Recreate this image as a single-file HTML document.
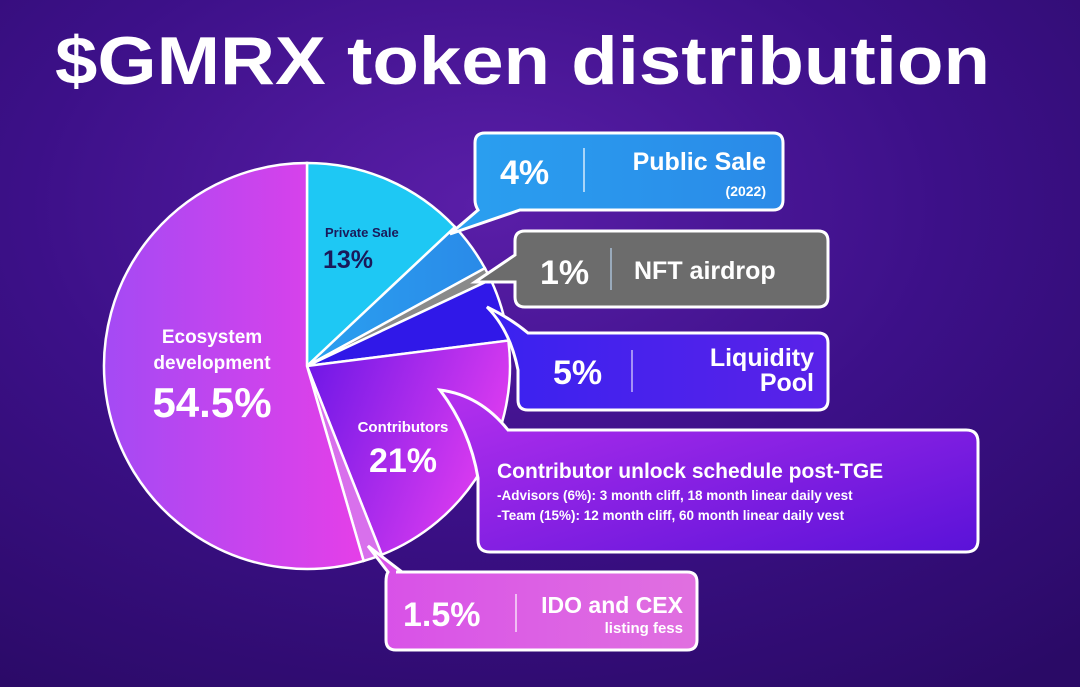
<!DOCTYPE html>
<html><head><meta charset="utf-8"><style>
html,body{margin:0;padding:0;width:1080px;height:687px;overflow:hidden;background:#2a0b68}
svg{display:block}
text{font-family:"Liberation Sans",sans-serif;font-weight:bold}
</style></head><body>
<svg width="1080" height="687" viewBox="0 0 1080 687">
<defs>
<radialGradient id="bg" cx="0.45" cy="0.3" r="0.85">
<stop offset="0" stop-color="#5a1ea8"/><stop offset="0.5" stop-color="#3c1088"/><stop offset="1" stop-color="#2a0a66"/>
</radialGradient>
<linearGradient id="eco" x1="0" x2="1" y1="0" y2="0"><stop offset="0" stop-color="#a44af4"/><stop offset="1" stop-color="#e53fe8"/></linearGradient>
<linearGradient id="con" x1="0" x2="1" y1="0" y2="0.4"><stop offset="0" stop-color="#6a16e6"/><stop offset="1" stop-color="#de3cf0"/></linearGradient>
<linearGradient id="pub" x1="0" x2="1"><stop offset="0" stop-color="#2aa0f0"/><stop offset="1" stop-color="#2a8ae8"/></linearGradient>
<linearGradient id="liq" x1="0" x2="1"><stop offset="0" stop-color="#3a22f0"/><stop offset="1" stop-color="#5a22e8"/></linearGradient>
<linearGradient id="cbox" x1="0" x2="1" y1="0" y2="1"><stop offset="0" stop-color="#b530ee"/><stop offset="1" stop-color="#5a12d8"/></linearGradient>
<linearGradient id="ido" x1="0" x2="1"><stop offset="0" stop-color="#d850e8"/><stop offset="1" stop-color="#e070e0"/></linearGradient>
</defs>
<rect width="1080" height="687" fill="url(#bg)"/>
<text x="55" y="84" font-size="68" fill="#fff" textLength="935" lengthAdjust="spacingAndGlyphs">$GMRX token distribution</text>
<g id="pie"></g>

<g>
<path d="M485,133 H773 Q783,133 783,143 V200 Q783,210 773,210 H520 L450,234 L478,210 Q475,205 475,200 V143 Q475,133 485,133Z" fill="url(#pub)" stroke="#fff" stroke-width="3"/>
<text x="500" y="184" font-size="34" fill="#fff">4%</text>
<line x1="584" y1="148" x2="584" y2="192" stroke="#fff" stroke-opacity="0.6" stroke-width="2"/>
<text x="766" y="170" font-size="25" fill="#fff" text-anchor="end">Public Sale</text>
<text x="766" y="196" font-size="14" fill="#fff" text-anchor="end">(2022)</text>
</g>
<g>
<path d="M525,231 H818 Q828,231 828,241 V297 Q828,307 818,307 H525 Q515,307 515,297 V282 L475,282 L515,255 V241 Q515,231 525,231Z" fill="#6c6c6c" stroke="#fff" stroke-width="3"/>
<text x="540" y="284" font-size="34" fill="#fff">1%</text>
<line x1="611" y1="248" x2="611" y2="290" stroke="#9ab" stroke-width="2"/>
<text x="634" y="279" font-size="25" fill="#fff">NFT airdrop</text>
</g>
<g>
<path d="M528,333 H818 Q828,333 828,343 V400 Q828,410 818,410 H528 Q518,410 518,400 V370 Q510,330 487,307 Q510,318 528,333Z" fill="url(#liq)" stroke="#fff" stroke-width="3"/>
<text x="553" y="384" font-size="34" fill="#fff">5%</text>
<line x1="632" y1="350" x2="632" y2="392" stroke="#fff" stroke-opacity="0.5" stroke-width="2"/>
<text x="814" y="366" font-size="25" fill="#fff" text-anchor="end">Liquidity</text>
<text x="814" y="391" font-size="25" fill="#fff" text-anchor="end">Pool</text>
</g>
<g>
<path d="M508,430 H966 Q978,430 978,442 V540 Q978,552 966,552 H490 Q478,552 478,540 V478 Q470,430 440,390 Q480,395 508,430Z" fill="url(#cbox)" stroke="#fff" stroke-width="3"/>
<text x="497" y="478" font-size="21" fill="#fff">Contributor unlock schedule post-TGE</text>
<text x="497" y="500" font-size="13.5" fill="#fff">-Advisors (6%): 3 month cliff, 18 month linear daily vest</text>
<text x="497" y="520" font-size="13.5" fill="#fff">-Team (15%): 12 month cliff, 60 month linear daily vest</text>
</g>
<g>
<path d="M396,572 H687 Q697,572 697,582 V640 Q697,650 687,650 H396 Q386,650 386,640 V582 Q386,575 388,572 L368,546 L402,572Z" fill="url(#ido)" stroke="#fff" stroke-width="3"/>
<text x="403" y="626" font-size="34" fill="#fff">1.5%</text>
<line x1="516" y1="594" x2="516" y2="632" stroke="#fff" stroke-opacity="0.6" stroke-width="2"/>
<text x="683" y="613" font-size="23" fill="#fff" text-anchor="end">IDO and CEX</text>
<text x="683" y="633" font-size="15" fill="#fff" text-anchor="end">listing fess</text>
</g>

<text x="325" y="237" font-size="13" fill="#1a1a5a">Private Sale</text>
<text x="323" y="268" font-size="25" fill="#1a1a5a">13%</text>
<text x="212" y="343" font-size="19" fill="#fff" text-anchor="middle">Ecosystem</text>
<text x="212" y="369" font-size="19" fill="#fff" text-anchor="middle">development</text>
<text x="212" y="417" font-size="42" fill="#fff" text-anchor="middle">54.5%</text>
<text x="403" y="432" font-size="15" fill="#fff" text-anchor="middle">Contributors</text>
<text x="403" y="472" font-size="34" fill="#fff" text-anchor="middle">21%</text>
</svg>
<script>
const categories = ["Private Sale","Public Sale","NFT airdrop","Liquidity Pool","Contributors","IDO and CEX","Ecosystem development"];
const values = [13, 4, 1, 5, 21, 1.5, 54.5];
const fills = ["#1ec8f4","url(#pub)","#8a8a8a","#3018e8","url(#con)","#d870ec","url(#eco)"];
const cx = 307, cy = 366, r = 203;
const g = document.getElementById('pie');
const total = values.reduce((a,b)=>a+b,0);
function pt(frac){const a = frac*2*Math.PI; return [cx + r*Math.sin(a), cy - r*Math.cos(a)];}
let acc = 0;
values.forEach((v,i)=>{
  const s = acc/total, e = (acc+v)/total; acc += v;
  const p0 = pt(s), p1 = pt(e);
  const large = (e-s) > 0.5 ? 1 : 0;
  const path = document.createElementNS('http://www.w3.org/2000/svg','path');
  path.setAttribute('d', `M${cx},${cy} L${p0[0]},${p0[1]} A${r},${r} 0 ${large} 1 ${p1[0]},${p1[1]} Z`);
  path.setAttribute('fill', fills[i]);
  path.setAttribute('stroke', '#fff');
  path.setAttribute('stroke-width', '2.5');
  
  
  g.appendChild(path);
});
</script>
</body></html>
